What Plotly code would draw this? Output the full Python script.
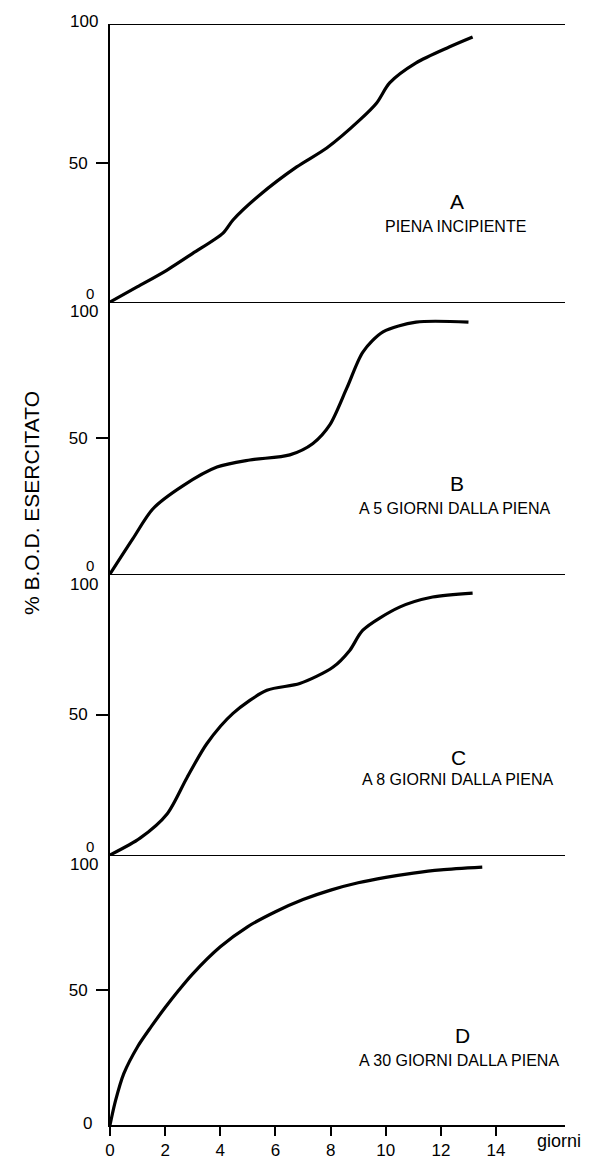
import plotly.graph_objects as go

# ---- data (days, % B.O.D. exerted) ----
days_a = [0, 1, 2.07, 3, 4.1, 4.46, 5.43, 6.77, 7.86, 9.06, 9.67, 10.14, 11.1, 12.3, 13.15]
bod_a = [0, 5.5, 11.5, 17.5, 24.8, 29.5, 38.5, 48.6, 55.4, 65.5, 71.6, 78.8, 86, 91.7, 95.3]

days_b = [0, 0.83, 1.56, 2.64, 3.88, 5.07, 6.52, 7.36, 7.97, 8.59, 9.17, 9.9, 11.1, 13.0]
bod_b = [0, 13, 24, 32.4, 39.3, 41.9, 43.8, 48, 54.8, 68.4, 81.6, 89, 92.6, 92.6]

days_c = [0, 1.09, 2.07, 2.79, 3.51, 4.46, 5.69, 6.88, 8.08, 8.7, 9.17, 10.5, 11.7, 13.15]
bod_c = [0, 6, 14.6, 27.5, 39.6, 50.4, 58.6, 61, 66.8, 72.9, 80, 88.2, 91.8, 93.2]

days_d = [0, 0.2, 0.5, 1, 1.5, 2, 2.5, 3, 4, 5, 6, 7, 8, 9, 10, 11, 12, 13.5]
bod_d = [0, 9, 19, 29, 36.5, 43.5, 50, 56, 66, 73.5, 79, 83.5, 87, 89.7, 91.7, 93.3, 94.5, 95.5]

panel_letters = ["A", "B", "C", "D"]
panel_subtitles = ["PIENA INCIPIENTE", "A 5 GIORNI DALLA PIENA",
                   "A 8 GIORNI DALLA PIENA", "A 30 GIORNI DALLA PIENA"]
y_ticks = [0, 50, 100]
x_ticks = [0, 2, 4, 6, 8, 10, 12, 14]
x_title = "giorni"
y_title = "% B.O.D. ESERCITATO"

FONT = "Liberation Sans, Arial, sans-serif"
OFF = 8  # page body margin offset
W, H = 594 - OFF, 1162 - OFF
ML, MR, MT, MB = 110 - OFF, 29, 24 - OFF, 37

# panel boundaries in page pixels (top of A .. bottom of D)
bounds_px = [24, 302, 574, 855, 1125]
letter_px = [(457, 202), (457, 483), (458, 757), (462, 1035)]
sub_px = [(455, 226), (455, 508), (458, 779), (459, 1060)]
plot_h = H - MT - MB
plot_w = W - ML - MR


def frac(ypx):
    return (H - MB - (ypx - OFF)) / plot_h


def xfrac(xpx):
    return (xpx - OFF - ML) / plot_w


domains = [[frac(bounds_px[i + 1]), frac(bounds_px[i])] for i in range(4)]

fig = go.Figure()
series = [(days_a, bod_a), (days_b, bod_b), (days_c, bod_c), (days_d, bod_d)]
for i, (xs, ys) in enumerate(series):
    fig.add_trace(go.Scatter(
        x=xs, y=ys, mode="lines", line=dict(color="black", width=3.2, shape="spline", smoothing=0.8),
        yaxis="y" if i == 0 else f"y{i+1}", xaxis="x", showlegend=False, hoverinfo="skip"))

layout = dict(
    width=W, height=H, margin=dict(l=ML, r=MR, t=MT, b=MB, autoexpand=False),
    paper_bgcolor="white", plot_bgcolor="white",
    font=dict(family=FONT, color="black", size=17),
    showlegend=False,
    xaxis=dict(range=[0, 16.5], anchor="y4", showline=True, linecolor="black", linewidth=2,
               ticks="outside", ticklen=9, tickwidth=1.5, tickcolor="black",
               tickvals=x_ticks, ticktext=[str(v) for v in x_ticks],
               tickfont=dict(size=17, family=FONT, color="black"), automargin=False,
               showgrid=False, zeroline=False, fixedrange=True),
)
for i in range(4):
    key = "yaxis" if i == 0 else f"yaxis{i+1}"
    layout[key] = dict(domain=domains[i], range=[0, 100], anchor="x",
                       showline=True, linecolor="black", linewidth=2,
                       ticks="outside", ticklen=12, tickwidth=1.5, tickcolor="black",
                       tickvals=[50], ticktext=["50"], ticklabelstandoff=5,
                       tickfont=dict(size=17, family=FONT, color="black"), automargin=False,
                       showgrid=False, zeroline=False)
fig.update_layout(**layout)

shapes = []
anns = []
for i in range(4):
    yref = "y" if i == 0 else f"y{i+1}"
    shapes.append(dict(type="line", xref="x", yref=yref, x0=0, x1=16.5, y0=100, y1=100,
                       layer="above", line=dict(color="black", width=2)))
    anns.append(dict(xref="paper", yref=yref, x=0, y=y_ticks[2], xanchor="right", yanchor="middle",
                     xshift=-10, yshift=(3 if i == 0 else -10), text=str(y_ticks[2]), showarrow=False,
                     font=dict(size=17, family=FONT, color="black")))
    anns.append(dict(xref="paper", yref=yref, x=0, y=y_ticks[0], xanchor="right", yanchor="middle",
                     xshift=(-14 if i < 3 else -16), yshift=(9 if i < 3 else 2), text=str(y_ticks[0]),
                     showarrow=False, font=dict(size=(15 if i < 3 else 17), family=FONT, color="black")))
    anns.append(dict(xref="paper", yref="paper", x=xfrac(letter_px[i][0]), y=frac(letter_px[i][1]),
                     xanchor="center", yanchor="middle", text=panel_letters[i], showarrow=False,
                     font=dict(size=21, family=FONT, color="black")))
    anns.append(dict(xref="paper", yref="paper", x=xfrac(sub_px[i][0]), y=frac(sub_px[i][1]),
                     xanchor="center", yanchor="middle", text=panel_subtitles[i], showarrow=False,
                     font=dict(size=16, family=FONT, color="black")))

anns.append(dict(xref="paper", yref="paper", x=xfrac(535), y=frac(1141), xanchor="left", yanchor="middle",
                 text=x_title, showarrow=False,
                 font=dict(size=18, family=FONT, color="black")))
anns.append(dict(xref="paper", yref="paper", x=xfrac(31), y=frac(503),
                 xanchor="center", yanchor="middle", textangle=-90, text=y_title, showarrow=False,
                 font=dict(size=21, family=FONT, color="black")))
fig.update_layout(shapes=shapes, annotations=anns)

fig.write_html("out.html")
